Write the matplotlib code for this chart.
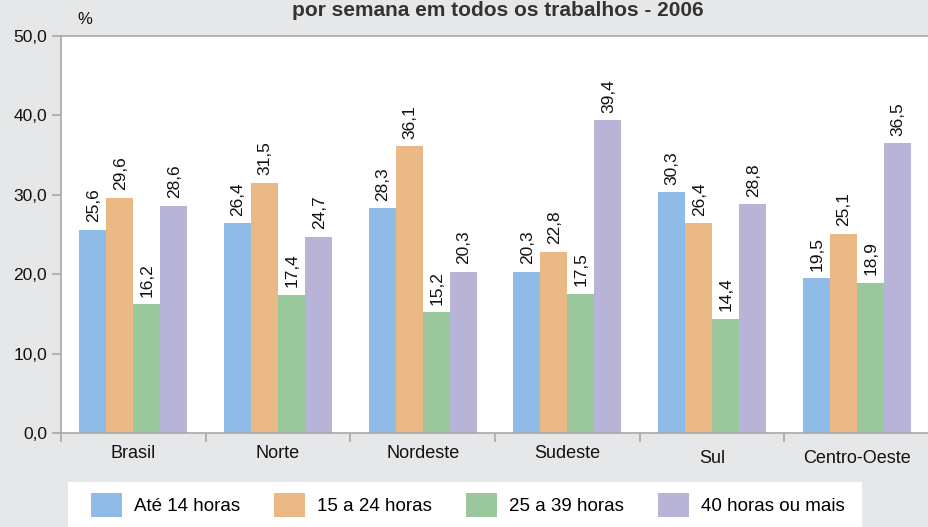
#Grouped bar chart - horas trabalhadas por semana, por região (2006)

import numpy as np
import matplotlib.pyplot as plt
from matplotlib.patches import Patch, Rectangle

#data
regioes = ["Brasil", "Norte", "Nordeste", "Sudeste", "Sul", "Centro-Oeste"]
faixas = ["Até 14 horas", "15 a 24 horas", "25 a 39 horas", "40 horas ou mais"]
ate_14 = [25.6, 26.4, 28.3, 20.3, 30.3, 19.5]
de_15_24 = [29.6, 31.5, 36.1, 22.8, 26.4, 25.1]
de_25_39 = [16.2, 17.4, 15.2, 17.5, 14.4, 18.9]
mais_40 = [28.6, 24.7, 20.3, 39.4, 28.8, 36.5]
yticks = [0, 10, 20, 30, 40, 50]

series = [ate_14, de_15_24, de_25_39, mais_40]
cores = ["#8fbce6", "#ebb985", "#9bc79c", "#b8b4d8"]
fundo = "#e6e7e8"
cinza = "#a8a8a8"

plt.rcParams['font.family'] = ['Liberation Sans', 'DejaVu Sans']

fig = plt.figure(figsize=(9.29, 5.27), dpi=100, facecolor=fundo)
ax = fig.add_axes([61/929, 1-433/527, 1-61/929, (433-36)/527])
ax.set_facecolor("white")

x = np.arange(len(regioes))
w = 0.187
for i, (vals, cor) in enumerate(zip(series, cores)):
    pos = x + (i - 1.5)*w
    ax.bar(pos, vals, width=w, color=cor, zorder=2)
    for p, v in zip(pos, vals):
        ax.annotate(f"{v:.1f}".replace(".", ","), (p, v), xytext=(0.5, 5.5),
                    textcoords="offset points", rotation=90, ha="center",
                    va="bottom", fontsize=12.5, color="#111111")

#axes
ax.set_xlim(-0.5, len(regioes) - 0.5)
ax.set_ylim(0, 50)
ax.set_yticks(yticks)
ax.set_yticklabels([f"{t:.1f}".replace(".", ",") for t in yticks], fontsize=12.5)
ax.set_xticks(x)
ax.set_xticklabels(regioes, fontsize=13)
ax.set_xticks(np.arange(-0.5, len(regioes)), minor=True)
ax.tick_params(axis="x", which="major", length=0, pad=8.5)
ax.tick_params(axis="x", which="minor", length=6.5, color=cinza, width=1.2)
ax.tick_params(axis="y", length=6.5, color=cinza, width=1.2, pad=3.5)
ax.tick_params(colors="#111111", which="major")
ax.tick_params(axis="y", color=cinza)
#Sul and Centro-Oeste labels sit a bit lower in the original
for k in [4, 5]:
    ax.xaxis.get_major_ticks()[k].set_pad(12)
for s in ["left", "bottom", "top"]:
    ax.spines[s].set_color(cinza)
    ax.spines[s].set_linewidth(1.2)
ax.spines["right"].set_visible(False)

fig.text(85/929, 1-20/527, "%", fontsize=12, ha="center", va="center",
         color="#111111")
fig.text(498/929, 1-1/527, "por semana em todos os trabalhos - 2006",
         fontsize=15, fontweight="bold", ha="center", va="top", color="#333333")

#legend: white box plus frameless legend
fig.patches.append(Rectangle((68/929, 0), (862-68)/929, 1-482/527,
                             transform=fig.transFigure, facecolor="white",
                             edgecolor="none", zorder=0))
handles = [Patch(facecolor=c, edgecolor="none") for c in cores]
leg = fig.legend(handles, faixas, loc="center left", ncol=4, mode="expand",
                 bbox_to_anchor=(91/929, 1-505/527, (845-91)/929, 0),
                 fontsize=13.5, handlelength=1.65, handleheight=1.65,
                 handletextpad=0.65, frameon=False, borderaxespad=0,
                 borderpad=0)

plt.savefig("out.png", dpi=100, facecolor=fundo)
